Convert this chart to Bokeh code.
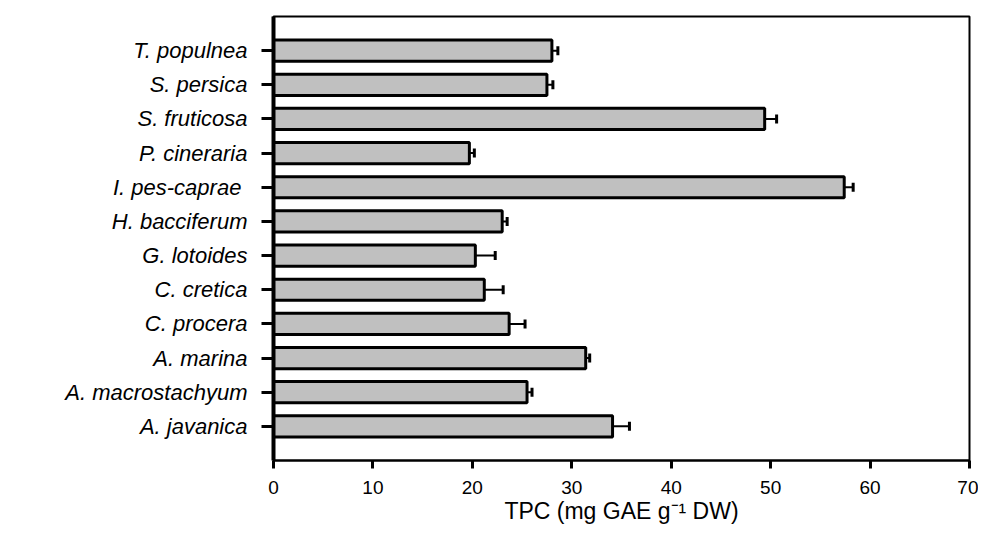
from bokeh.plotting import figure
from bokeh.models import ColumnDataSource, Whisker, TeeHead, FactorRange
from bokeh.embed import file_html
from bokeh.resources import INLINE

species = ["A. javanica", "A. macrostachyum", "A. marina", "C. procera", "C. cretica",
           "G. lotoides", "H. bacciferum", "I. pes-caprae ", "P. cineraria",
           "S. fruticosa", "S. persica", "T. populnea"]
tpc = [34.1, 25.5, 31.4, 23.7, 21.2, 20.3, 23.0, 57.4, 19.7, 49.4, 27.5, 28.0]
err = [1.7, 0.5, 0.4, 1.6, 1.9, 2.0, 0.5, 0.9, 0.5, 1.2, 0.6, 0.6]
x_ticks = [0, 10, 20, 30, 40, 50, 60, 70]

src = ColumnDataSource(dict(sp=species, v=tpc,
                            up=[a + b for a, b in zip(tpc, err)]))

p = figure(width=978, height=533, output_backend="svg", toolbar_location=None,
           y_range=FactorRange(factors=species, range_padding=1 / 12,
                               range_padding_units="percent"),
           x_range=(0, 70),
           min_border_left=273, min_border_top=16, min_border_right=9,
           min_border_bottom=73)

p.hbar(y="sp", left=0, right="v", height=0.62, source=src,
       fill_color="#c0c0c0", line_color="black", line_width=3)

w = Whisker(source=src, base="sp", lower="v", upper="up", dimension="width",
            line_color="black", line_width=2, lower_head=None,
            upper_head=TeeHead(size=9, line_width=3, line_color="black"))
p.add_layout(w)

p.xgrid.visible = False
p.ygrid.visible = False
p.outline_line_color = "black"
p.outline_line_width = 2
p.outline_line_alpha = 1

xa = p.xaxis[0]
xa.ticker = x_ticks
xa.axis_line_width = 2
xa.major_tick_line_width = 3
xa.major_tick_out = 8
xa.major_tick_in = 0
xa.minor_tick_line_color = None
xa.major_label_text_font = "Liberation Sans"
xa.major_label_text_font_size = "19px"
xa.major_label_text_color = "black"
xa.major_label_standoff = 12
xa.axis_label = "TPC (mg GAE g\u207b\u00b9 DW)"
xa.axis_label_text_font = "Liberation Sans"
xa.axis_label_text_font_size = "23px"
xa.axis_label_text_font_style = "normal"
xa.axis_label_text_color = "black"
xa.axis_label_standoff = 1

ya = p.yaxis[0]
ya.axis_line_width = 4
ya.major_tick_line_width = 3
ya.major_tick_out = 12
ya.major_tick_in = 0
ya.minor_tick_line_color = None
ya.major_label_text_font = "Liberation Sans"
ya.major_label_text_font_size = "22px"
ya.major_label_text_font_style = "italic"
ya.major_label_text_color = "black"
ya.major_label_standoff = 14

open("out.html", "w").write(file_html(p, INLINE))
